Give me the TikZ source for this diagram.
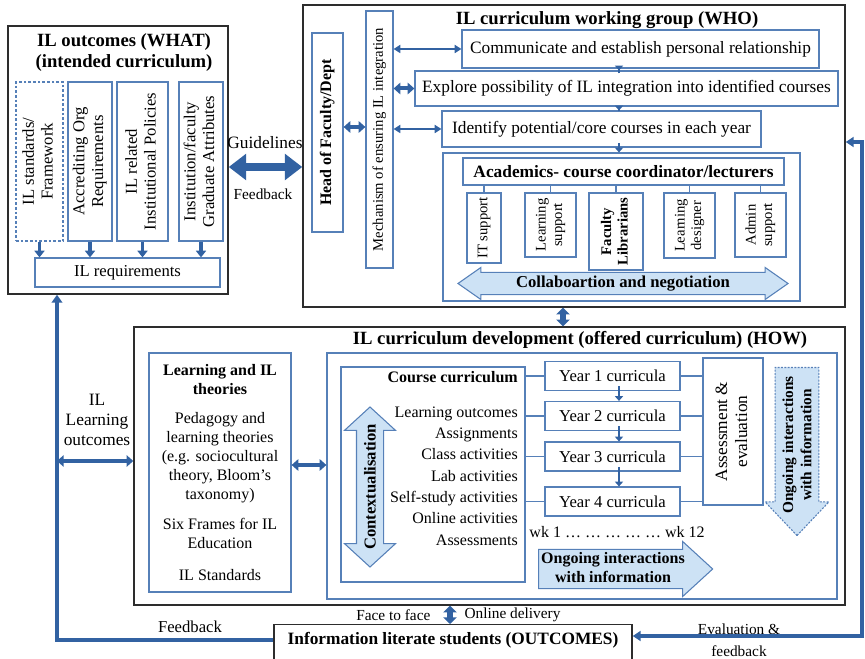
\documentclass[tikz,border=0pt]{standalone}
\usepackage{fontspec}
\setmainfont{Liberation Serif}
\usetikzlibrary{shapes.arrows,arrows.meta,positioning,calc}

\definecolor{boxblue}{RGB}{86,128,184}
\definecolor{arrowblue}{RGB}{50,98,162}
\definecolor{fillblue}{RGB}{205,226,245}
\definecolor{outline}{RGB}{45,45,45}

\newcommand{\vtext}[1]{\rotatebox{90}{\begin{tabular}{@{}c@{}}#1\end{tabular}}}
\newcommand{\fsz}[2]{\fontsize{#1}{#2}\selectfont}

\begin{document}
\begin{tikzpicture}[
    x=0.75pt, y=-0.75pt,
    every node/.style={inner sep=1pt},
    outerbox/.style={rectangle, draw=outline, line width=1.1pt},
    bluebox/.style={rectangle, draw=boxblue, line width=0.9pt},
    titletext/.style={font=\fsz{14}{15.75}\bfseries, align=center},
    body/.style={font=\fsz{13}{15}},
    colbox/.style={bluebox, minimum height=119.25pt, font=\fsz{12.5}{14}},
    rolebox/.style={bluebox, font=\fsz{11}{12.5}},
    yearbox/.style={bluebox, minimum width=101.25pt, minimum height=21.75pt, font=\fsz{12.5}{14}},
    blockarrow/.style={draw=boxblue, fill=fillblue, line width=0.8pt, inner xsep=0pt, text height=0pt, text depth=0pt},
    bigdbl/.style={draw=arrowblue, line width=6pt, <->, >={Triangle[length=13pt,width=19pt]}},
    middbl/.style={draw=arrowblue, line width=3pt, <->, >={Triangle[length=5pt,width=8.5pt]}},
    thindbl/.style={draw=arrowblue, line width=1.6pt, <->, >={Triangle[length=5pt,width=6pt]}},
    stubdbl/.style={draw=arrowblue, line width=4pt, <->, >={Triangle[length=5pt,width=10pt]}},
    downarrow/.style={draw=arrowblue, line width=2.6pt, ->, >={Triangle[length=5pt,width=7.5pt]}},
    tinyarrow/.style={draw=arrowblue, line width=2pt, ->, >={Triangle[length=3.5pt,width=6pt]}, shorten <=-3.5pt},
    fbline/.style={draw=arrowblue, line width=3pt, ->, >={Triangle[length=6pt,width=8pt]}},
    evalline/.style={draw=arrowblue, line width=2.3pt, <->, >={Triangle[length=6pt,width=7.5pt]}},
    boxline/.style={draw=boxblue, line width=0.8pt}
]
\useasboundingbox (0,0) rectangle (865,659);
\clip (0,0) rectangle (865,659);

% WHAT - intended curriculum
\node[outerbox, minimum width=165pt, minimum height=201pt] (what) at (118,160) {};
\node[titletext] (whattitle) at (124,53) {IL outcomes (WHAT)\\(intended curriculum)};
\node[colbox, dash pattern=on 2pt off 1.5pt, minimum width=35.25pt] (c1) at (39.5,161.5) {\vtext{IL standards/\\Framework}};
\node[colbox, minimum width=33pt] (c2) at (90,161.5) {\vtext{Accrediting Org\\Requirements}};
\node[colbox, minimum width=38.25pt] (c3) at (142.5,161.5) {\vtext{IL related\\Institutional Policies}};
\node[colbox, minimum width=33pt] (c4) at (201,161.5) {\vtext{Institution/faculty\\Graduate Attributes}};
\node[bluebox, minimum width=138.75pt, minimum height=21.75pt, font=\fsz{12.5}{14}] (req) at (127.5,272.5) {IL requirements};
\node[font=\fsz{13}{15}] (guide) at (265,143) {Guidelines};
\node[font=\fsz{11.5}{13}] (feedtop) at (263,194) {Feedback};

% WHO - working group
\node[outerbox, minimum width=406.5pt, minimum height=226.5pt] (who) at (574,156) {};
\node[titletext] (whotitle) at (607,20) {IL curriculum working group (WHO)};
\node[bluebox, minimum width=23.25pt, minimum height=149.25pt, font=\fsz{12}{14}\bfseries] (head) at (327.5,132.5) {\vtext{Head of Faculty/Dept}};
\node[bluebox, minimum width=20.25pt, minimum height=192.75pt, font=\fsz{11}{13}] (mech) at (379.5,139.5) {\vtext{Mechanism of ensuring IL integration}};
\node[bluebox, body, minimum width=267.75pt, minimum height=28.5pt] (comm) at (640.5,49) {Communicate and establish personal relationship};
\node[bluebox, body, minimum width=317.25pt, minimum height=26.25pt] (explore) at (626.5,88.5) {Explore possibility of IL integration into identified courses};
\node[bluebox, body, minimum width=239.25pt, minimum height=27pt] (ident) at (601.5,129) {Identify potential/core courses in each year};
\node[bluebox, minimum width=267.75pt, minimum height=111pt] (acad) at (621.5,227) {};
\node[bluebox, minimum width=240.75pt, minimum height=20.25pt, font=\fsz{13}{15}\bfseries] (acadtitle) at (623.5,171.5) {Academics- course coordinator/lecturers};
\node[rolebox, minimum width=25.5pt, minimum height=52.5pt] (it) at (484,228) {\vtext{IT support}};
\node[rolebox, minimum width=38.25pt, minimum height=48pt] (lsup) at (550.5,225) {\vtext{Learning\\support}};
\node[rolebox, minimum width=40.5pt, minimum height=57.75pt, font=\fsz{11}{12.5}\bfseries] (flib) at (616,231.5) {\vtext{Faculty\\Librarians}};
\node[rolebox, minimum width=38.25pt, minimum height=48.75pt] (ldes) at (689.5,225.5) {\vtext{Learning\\designer}};
\node[rolebox, minimum width=38.25pt, minimum height=48pt] (adm) at (760.5,225) {\vtext{Admin\\support}};
\node[blockarrow, double arrow, minimum height=247.5pt, inner ysep=7.9pt, double arrow head extend=3.75pt, double arrow tip angle=70] (collab) at (623,283.5) {};
\node[font=\fsz{12.5}{14}\bfseries] (collabtext) at (623,283.5) {Collaboartion and negotiation};

% HOW - offered curriculum
\node[outerbox, minimum width=533.25pt, minimum height=208.5pt] (how) at (489.5,466) {};
\node[titletext] (howtitle) at (580,340) {IL curriculum development (offered curriculum) (HOW)};
\node[bluebox, minimum width=106.5pt, minimum height=179.25pt, align=center, font=\fsz{12}{14.25}] (theory) at (220,472.5)
  {\textbf{Learning and IL}\\\textbf{theories}\\[8pt]Pedagogy and\\learning theories\\(e.g. sociocultural\\theory, Bloom’s\\taxonomy)\\[8pt]Six Frames for IL\\Education\\[10pt]IL Standards};
\node[bluebox, minimum width=382.5pt, minimum height=184.5pt] (inner) at (582,476) {};
\node[bluebox, minimum width=138pt, minimum height=161.25pt] (course) at (433,474.5) {};
\node[anchor=north east, inner sep=0pt, align=right, font=\fsz{12}{16}] (coursetext) at (518,371)
  {\textbf{Course curriculum}\\[10pt]Learning outcomes\\Assignments\\Class activities\\Lab activities\\Self-study activities\\Online activities\\Assessments};
\node[blockarrow, double arrow, rotate=90, minimum height=120pt, inner ysep=9.75pt, double arrow head extend=9pt, double arrow tip angle=95] (ctx) at (370,487) {};
\node[font=\fsz{12.5}{14}\bfseries, rotate=90] (ctxtext) at (370,487) {Contextualisation};
\node[yearbox] (y1) at (612.5,376) {Year 1 curricula};
\node[yearbox] (y2) at (612.5,416) {Year 2 curricula};
\node[yearbox] (y3) at (612.5,456.5) {Year 3 curricula};
\node[yearbox] (y4) at (612.5,501.5) {Year 4 curricula};
\node[bluebox, minimum width=45pt, minimum height=110.25pt, font=\fsz{13}{15}] (assess) at (733,431.5) {\vtext{Assessment \&\\evaluation}};
\node[blockarrow, single arrow, rotate=-90, dash pattern=on 1.5pt off 1pt, minimum height=126pt, inner ysep=16pt, single arrow head extend=7.5pt, single arrow tip angle=87] (ongr) at (797,440) {};
\node[font=\fsz{11.5}{13.5}\bfseries, rotate=90, align=center] (ongrtext) at (797,445) {Ongoing interactions\\with information};
\node[font=\fsz{12}{14}] (wk) at (617,532) {wk 1 … … … … … wk 12};
\node[blockarrow, single arrow, minimum height=130.5pt, inner ysep=14.25pt, single arrow head extend=6pt, single arrow tip angle=85] (ongb) at (615,569) {};
\node[font=\fsz{12}{14.25}\bfseries, align=center] (ongbtext) at (613,568) {Ongoing interactions\\with information};

% OUTCOMES - students
\node[outerbox, anchor=north, minimum width=268.5pt, minimum height=40pt] (stud) at (453,624) {};
\node[font=\fsz{13}{15}\bfseries] (studtext) at (453,640) {Information literate students (OUTCOMES)};
\node[font=\fsz{11.5}{13}, anchor=east] (f2f) at (432,615) {Face to face};
\node[font=\fsz{11.5}{13}, anchor=west] (online) at (463,615) {Online delivery};
\node[font=\fsz{13}{15}, align=center] (ilout) at (97,420) {IL\\Learning\\outcomes};
\node[font=\fsz{12.5}{14}] (fbleft) at (190,627) {Feedback};
\node[font=\fsz{11.5}{16.5}, align=center] (evalfb) at (739,640) {Evaluation \&\\feedback};

% arrows inside WHAT
\foreach \c in {c1,c2,c3,c4}
  \draw[downarrow] (\c.south) -- (\c.south |- req.north);

% guidelines / feedback
\coordinate (gl) at (265,167);
\draw[bigdbl] (what.east |- gl) -- (who.west |- gl);

% head - mechanism - steps
\coordinate (hm) at (354,127);
\draw[middbl] (head.east |- hm) -- (mech.west |- hm);
\draw[thindbl] (mech.east |- comm.west) -- (comm.west);
\draw[middbl] (mech.east |- explore.west) -- (explore.west);
\draw[thindbl] (mech.east |- ident.west) -- (ident.west);
\coordinate (ax) at (619,0);
\draw[tinyarrow] (comm.south -| ax) -- (explore.north -| ax);
\draw[tinyarrow] (explore.south -| ax) -- (ident.north -| ax);
\draw[tinyarrow] (ident.south -| ax) -- (acad.north -| ax);
\foreach \b in {it,lsup,flib,ldes,adm}
  \draw[boxline] (\b.north) -- (\b.north |- acadtitle.south);

% WHO <-> HOW
\coordinate (wh) at (563,0);
\draw[stubdbl] (who.south -| wh) -- (how.north -| wh);

% inside HOW
\coordinate (lo) at (57,461);
\draw[middbl] (lo) -- (how.west |- lo);
\coordinate (ti) at (0,465);
\draw[middbl] (theory.east |- ti) -- (inner.west |- ti);
\foreach \y in {y1,y2,y3,y4} {
  \draw[boxline] (course.east |- \y.west) -- (\y.west);
  \draw[boxline] (\y.east) -- (assess.west |- \y.east);
}
\foreach \a/\b in {y1/y2,y2/y3,y3/y4}
  \draw[tinyarrow] (\a.south -| ax) -- (\b.north -| ax);

% delivery and feedback loops
\coordinate (ff) at (450,0);
\draw[stubdbl] (how.south -| ff) -- (stud.north -| ff);
\draw[fbline] (stud.west |- studtext) -| (what.south -| lo);
\coordinate (rc) at (862,400);
\coordinate (ev) at (0,636);
\coordinate (gr) at (0,142);
\draw[evalline] (who.east |- gr) -| (rc) |- (stud.east |- ev);

\end{tikzpicture}
\end{document}
